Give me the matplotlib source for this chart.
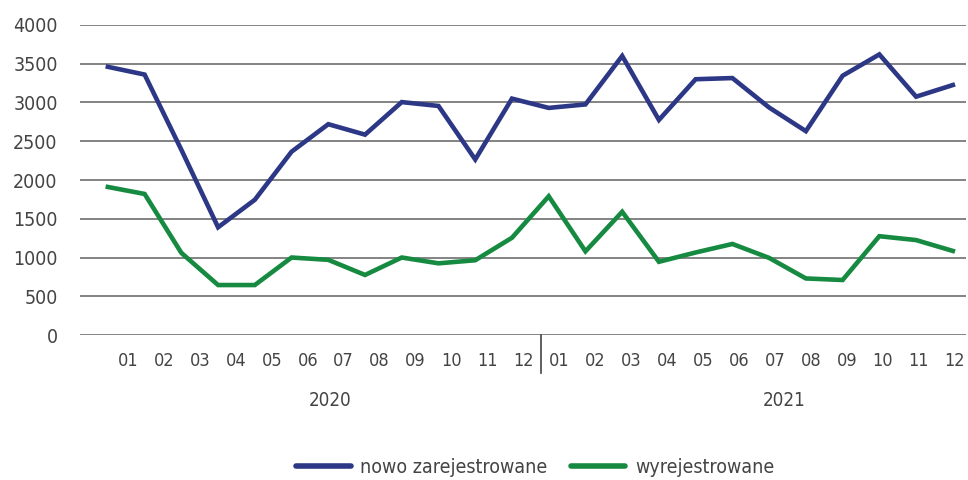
import numpy as np
import matplotlib.pyplot as plt
from matplotlib.lines import Line2D
import matplotlib.transforms as mtransforms

plt.rcParams['font.family'] = ['DejaVu Sans']
plt.rcParams['font.stretch'] = 'condensed'

# Dane
miesiace = ['01', '02', '03', '04', '05', '06', '07', '08', '09', '10', '11', '12'] * 2
lata = ['2020', '2021']
nowo = [3460, 3360, 2390, 1390, 1745, 2365, 2720, 2585, 3005, 2955, 2265, 3050,
        2930, 2975, 3600, 2775, 3300, 3315, 2935, 2630, 3345, 3620, 3075, 3225]
wyrej = [1910, 1820, 1060, 645, 645, 1000, 970, 775, 1000, 925, 965, 1255,
         1790, 1080, 1590, 945, 1065, 1175, 995, 730, 710, 1275, 1225, 1085]

niebieski = '#2c3785'
zielony = '#168a40'
szary = '#444444'

fig = plt.figure(figsize=(9.68, 4.8), dpi=100)
ax = fig.add_axes([0.0826, 0.302, 0.915, 0.646])

x = np.arange(len(nowo))
ax.plot(x, nowo, color=niebieski, lw=3.3, solid_joinstyle='miter', zorder=3)
ax.plot(x, wyrej, color=zielony, lw=3.3, solid_joinstyle='miter', zorder=3)

ax.set_ylim(0, 4000)
ax.set_xlim(-0.76, 23.35)
ax.set_yticks(np.arange(0, 4001, 500))
ax.yaxis.grid(True, color='#7a7a7a', lw=1.3)
ax.set_axisbelow(True)
for s in ax.spines.values():
    s.set_visible(False)

# etykiety miesięcy (lekko przesunięte jak w oryginale)
pos = np.linspace(0.55, 23.05, len(miesiace))
ax.set_xticks(pos)
ax.set_xticklabels(miesiace)
ax.tick_params(axis='both', length=0, labelsize=13, labelcolor=szary)
ax.tick_params(axis='y', labelsize=14, pad=16)
ax.tick_params(axis='x', pad=12)

# separator lat
sep = (pos[11] + pos[12]) / 2
ax.axvline(sep, ymin=-0.123, ymax=0, color=szary, lw=1.2, clip_on=False)

trans = mtransforms.blended_transform_factory(ax.transData, ax.transAxes)
ax.text(6.05, -0.21, lata[0], transform=trans, ha='center', va='center',
        fontsize=13.5, color=szary)
ax.text(18.4, -0.21, lata[1], transform=trans, ha='center', va='center',
        fontsize=13.5, color=szary)

handles = [Line2D([], [], color=niebieski, lw=4, solid_capstyle='round'),
           Line2D([], [], color=zielony, lw=4, solid_capstyle='round')]
fig.legend(handles, ['nowo zarejestrowane', 'wyrejestrowane'], loc='center',
           bbox_to_anchor=(0.553, 0.027), ncol=2, frameon=False, fontsize=14,
           handlelength=2.8, columnspacing=1.2, handletextpad=0.5,
           labelcolor=szary)

fig.savefig('out.png', dpi=100)
